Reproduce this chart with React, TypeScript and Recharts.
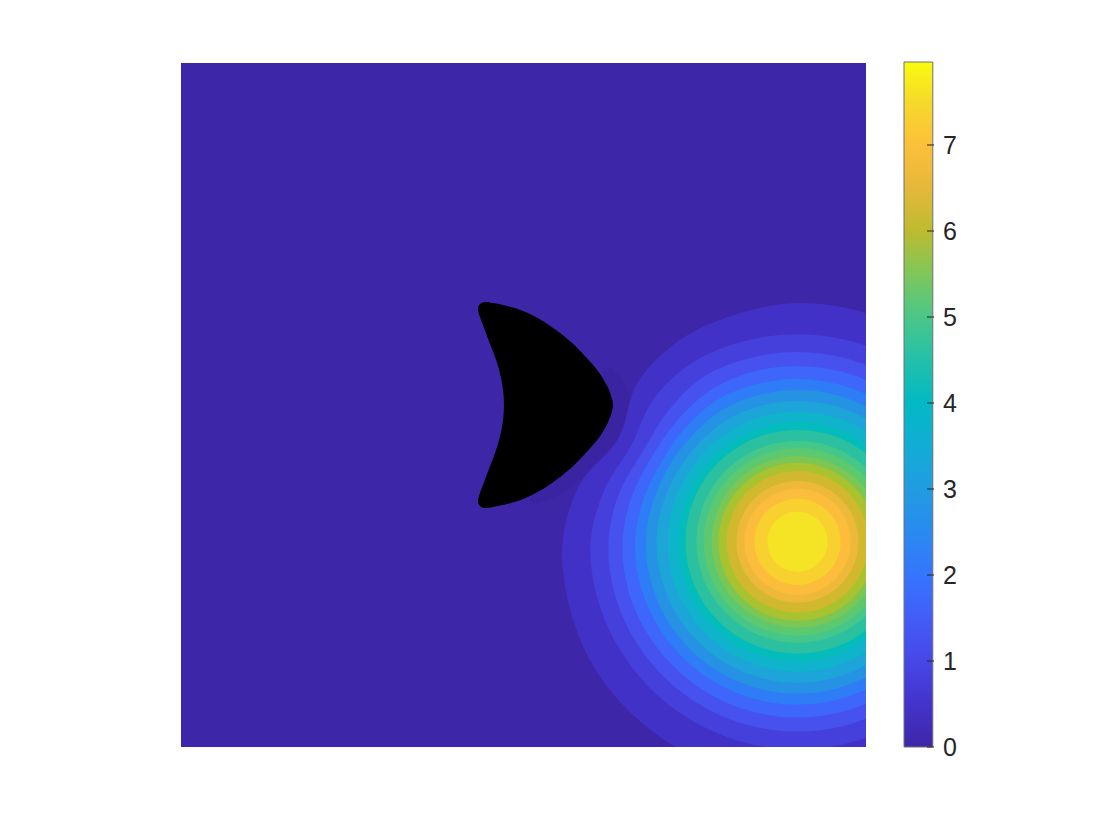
import React from 'react';
import { ComposedChart, Scatter, XAxis, YAxis, BarChart, Bar } from 'recharts';

// ---------- data (chart units: plot spans [-1, 1] x [-1, 1]) ----------
const peakCenterX = 0.8;
const peakCenterY = -0.4;
const peakMax = 7.965;

const contourLevels = [0.4, 0.8, 1.2, 1.6, 2.0, 2.4, 2.8, 3.2, 3.6, 4.0, 4.4, 4.8, 5.2, 5.6, 6.0, 6.4, 6.8, 7.2, 7.6];

// directions (degrees, counter-clockwise from +x) at which each contour radius was read
const contourAngles = [0, 15, 30, 45, 60, 75, 90, 105, 120, 135, 150, 165, 180, 195, 210, 225, 240, 255, 270, 285, 300, 315, 330, 345];

// radius of each contour level (rows follow contourLevels) along contourAngles
const contourRadii = [
  [0.698, 0.698, 0.698, 0.698, 0.698, 0.698, 0.698, 0.689, 0.683, 0.660, 0.604, 0.657, 0.686, 0.692, 0.698, 0.698, 0.698, 0.698, 0.698, 0.698, 0.698, 0.698, 0.698, 0.698],
  [0.607, 0.607, 0.607, 0.607, 0.607, 0.607, 0.607, 0.607, 0.607, 0.593, 0.561, 0.584, 0.604, 0.607, 0.607, 0.607, 0.607, 0.607, 0.607, 0.607, 0.607, 0.607, 0.607, 0.607],
  [0.555, 0.555, 0.555, 0.555, 0.555, 0.555, 0.555, 0.555, 0.555, 0.537, 0.523, 0.540, 0.552, 0.555, 0.555, 0.555, 0.555, 0.555, 0.555, 0.555, 0.555, 0.555, 0.555, 0.555],
  [0.514, 0.514, 0.514, 0.514, 0.514, 0.514, 0.514, 0.514, 0.511, 0.499, 0.493, 0.502, 0.511, 0.514, 0.514, 0.514, 0.514, 0.514, 0.514, 0.514, 0.514, 0.514, 0.514, 0.514],
  [0.476, 0.476, 0.476, 0.476, 0.476, 0.476, 0.476, 0.476, 0.476, 0.467, 0.461, 0.467, 0.474, 0.476, 0.476, 0.476, 0.476, 0.476, 0.476, 0.476, 0.476, 0.476, 0.476, 0.476],
  [0.444, 0.444, 0.444, 0.444, 0.444, 0.444, 0.444, 0.444, 0.444, 0.437, 0.435, 0.438, 0.443, 0.444, 0.444, 0.444, 0.444, 0.444, 0.444, 0.444, 0.444, 0.444, 0.444, 0.444],
  [0.412, 0.412, 0.412, 0.412, 0.412, 0.412, 0.412, 0.412, 0.412, 0.408, 0.406, 0.409, 0.412, 0.412, 0.412, 0.412, 0.412, 0.412, 0.412, 0.412, 0.412, 0.412, 0.412, 0.412],
  [0.380, 0.380, 0.380, 0.380, 0.380, 0.380, 0.380, 0.380, 0.380, 0.379, 0.377, 0.379, 0.380, 0.380, 0.380, 0.380, 0.380, 0.380, 0.380, 0.380, 0.380, 0.380, 0.380, 0.380],
  [0.350, 0.350, 0.350, 0.350, 0.350, 0.350, 0.350, 0.350, 0.350, 0.350, 0.350, 0.350, 0.350, 0.350, 0.350, 0.350, 0.350, 0.350, 0.350, 0.350, 0.350, 0.350, 0.350, 0.350],
  [0.327, 0.327, 0.327, 0.327, 0.327, 0.327, 0.327, 0.327, 0.327, 0.327, 0.327, 0.327, 0.327, 0.327, 0.327, 0.327, 0.327, 0.327, 0.327, 0.327, 0.327, 0.327, 0.327, 0.327],
  [0.295, 0.295, 0.295, 0.295, 0.295, 0.295, 0.295, 0.295, 0.295, 0.295, 0.295, 0.295, 0.295, 0.295, 0.295, 0.295, 0.295, 0.295, 0.295, 0.295, 0.295, 0.295, 0.295, 0.295],
  [0.274, 0.274, 0.274, 0.274, 0.274, 0.274, 0.274, 0.274, 0.274, 0.274, 0.274, 0.274, 0.274, 0.274, 0.274, 0.274, 0.274, 0.274, 0.274, 0.274, 0.274, 0.274, 0.274, 0.274],
  [0.251, 0.251, 0.251, 0.251, 0.251, 0.251, 0.251, 0.251, 0.251, 0.251, 0.251, 0.251, 0.251, 0.251, 0.251, 0.251, 0.251, 0.251, 0.251, 0.251, 0.251, 0.251, 0.251, 0.251],
  [0.231, 0.231, 0.231, 0.231, 0.231, 0.231, 0.231, 0.231, 0.231, 0.231, 0.231, 0.231, 0.231, 0.231, 0.231, 0.231, 0.231, 0.231, 0.231, 0.231, 0.231, 0.231, 0.231, 0.231],
  [0.207, 0.207, 0.207, 0.207, 0.207, 0.207, 0.207, 0.207, 0.207, 0.207, 0.207, 0.207, 0.207, 0.207, 0.207, 0.207, 0.207, 0.207, 0.207, 0.207, 0.207, 0.207, 0.207, 0.207],
  [0.178, 0.178, 0.178, 0.178, 0.178, 0.178, 0.178, 0.178, 0.178, 0.178, 0.178, 0.178, 0.178, 0.178, 0.178, 0.178, 0.178, 0.178, 0.178, 0.178, 0.178, 0.178, 0.178, 0.178],
  [0.155, 0.155, 0.155, 0.155, 0.155, 0.155, 0.155, 0.155, 0.155, 0.155, 0.155, 0.155, 0.155, 0.155, 0.155, 0.155, 0.155, 0.155, 0.155, 0.155, 0.155, 0.155, 0.155, 0.155],
  [0.126, 0.126, 0.126, 0.126, 0.126, 0.126, 0.126, 0.126, 0.126, 0.126, 0.126, 0.126, 0.126, 0.126, 0.126, 0.126, 0.126, 0.126, 0.126, 0.126, 0.126, 0.126, 0.126, 0.126],
  [0.088, 0.088, 0.088, 0.088, 0.088, 0.088, 0.088, 0.088, 0.088, 0.088, 0.088, 0.088, 0.088, 0.088, 0.088, 0.088, 0.088, 0.088, 0.088, 0.088, 0.088, 0.088, 0.088, 0.088],
];

const backgroundColor = '#3E26A8';
// fill colour of the region above each contour level
const bandColors = [
  '#4231C6', '#4540DC', '#4651EE', '#3E66FA', '#2E7DF6', '#2592E3', '#1DA4D8', '#10B3CC', '#04BCBC',
  '#2BC0A0', '#46C78A', '#5CC870', '#7CC653', '#A9C22F', '#D1B82E', '#EEB93B', '#FDBD3C', '#F8D030', '#F5E426',
];

// slightly lower region hugging the obstacle
const wakeX = [0.241, 0.288, 0.311, 0.299, 0.264, 0.212, 0.150, 0.083, 0.019, 0.107, 0.194];
const wakeY = [0.108, 0.073, 0.020, -0.044, -0.117, -0.178, -0.231, -0.272, -0.278, -0.102, 0.015];
const wakeColor = '#3B24A1';

// crescent obstacle outline
const obstacleX = [
  -0.127, -0.112, -0.089, -0.045, -0.001, 0.048, 0.095, 0.142, 0.182, 0.218, 0.244, 0.258, 0.261,
  0.258, 0.244, 0.218, 0.182, 0.142, 0.095, 0.048, -0.001, -0.045, -0.089, -0.112, -0.127,
  -0.133, -0.127, -0.115, -0.101, -0.083, -0.069, -0.060, -0.057, -0.060, -0.069, -0.083, -0.101, -0.115, -0.127, -0.133,
];
const obstacleY = [
  0.295, 0.301, 0.298, 0.289, 0.275, 0.251, 0.219, 0.181, 0.140, 0.099, 0.056, 0.020, 0.000,
  -0.020, -0.056, -0.099, -0.140, -0.181, -0.219, -0.251, -0.275, -0.289, -0.298, -0.301, -0.295,
  -0.281, -0.257, -0.225, -0.187, -0.140, -0.094, -0.047, 0.000, 0.047, 0.094, 0.140, 0.187, 0.225, 0.257, 0.281,
];

const plotCornersX = [-1, 1, 1, -1];
const plotCornersY = [-1, -1, 1, 1];

// colorbar
const colorbarTicks = [0, 1, 2, 3, 4, 5, 6, 7];
const colorbarValues = [0, 0.5, 1, 1.5, 2, 2.5, 3, 3.5, 4, 4.5, 5, 5.5, 6, 6.5, 7, 7.5, 7.965];
const colorbarColors = [
  '#3E26A8', '#4433CC', '#4747E6', '#435DF7', '#3575FD', '#2A8AF0', '#219CE1', '#12ADD4', '#02B9C4',
  '#23C0A9', '#4AC789', '#7FC75A', '#BDBB30', '#E5B83A', '#FCC03A', '#F6D92B', '#F9FB0E',
];

// ---------- helpers ----------
type Pt = { x: number; y: number };

const zip = (xs: number[], ys: number[]): Pt[] => xs.map((x, i) => ({ x, y: ys[i] }));

const contourPoints = (radii: number[]): Pt[] =>
  contourAngles.map((a, i) => {
    const t = (a * Math.PI) / 180;
    return { x: peakCenterX + radii[i] * Math.cos(t), y: peakCenterY + radii[i] * Math.sin(t) };
  });

function smoothClosedPath(pts: Pt[]): string {
  const n = pts.length;
  if (!n) return '';
  let d = `M${pts[0].x},${pts[0].y}`;
  for (let i = 0; i < n; i++) {
    const p0 = pts[(i - 1 + n) % n];
    const p1 = pts[i];
    const p2 = pts[(i + 1) % n];
    const p3 = pts[(i + 2) % n];
    const c1x = p1.x + (p2.x - p0.x) / 6;
    const c1y = p1.y + (p2.y - p0.y) / 6;
    const c2x = p2.x - (p3.x - p1.x) / 6;
    const c2y = p2.y - (p3.y - p1.y) / 6;
    d += ` C${c1x},${c1y} ${c2x},${c2y} ${p2.x},${p2.y}`;
  }
  return d + ' Z';
}

const linearClosedPath = (pts: Pt[]): string =>
  pts.length ? 'M' + pts.map((p) => `${p.x},${p.y}`).join(' L') + ' Z' : '';

const makeFill = (color: string, smooth: boolean) => (props: any) => (
  <path
    d={smooth ? smoothClosedPath(props.points || []) : linearClosedPath(props.points || [])}
    fill={color}
    stroke="none"
  />
);

const noShape = () => <g />;

const ColorbarTick = (props: any) => {
  const { x, y, payload } = props;
  return (
    <g>
      <line x1={x - 16} x2={x - 9} y1={y} y2={y} stroke="#262626" strokeWidth={1} />
      <text
        x={x}
        y={y}
        dy="0.36em"
        textAnchor="start"
        fontSize={25}
        fill="#262626"
        fontFamily="'Liberation Sans', Arial, Helvetica, sans-serif"
      >
        {payload.value}
      </text>
    </g>
  );
};

const W = 1104;
const H = 824;

export default function App() {
  const colorbarData = [{ name: 'cb', value: peakMax }];
  return (
    <div style={{ position: 'relative', width: W, height: H }}>
      <div style={{ position: 'absolute', left: 0, top: 0 }}>
        <ComposedChart width={W} height={H} margin={{ top: 55, left: 173, right: 246, bottom: 85 }}>
          <XAxis type="number" dataKey="x" domain={[-1, 1]} allowDataOverflow hide />
          <YAxis type="number" dataKey="y" domain={[-1, 1]} allowDataOverflow hide />
          <Scatter
            data={zip(plotCornersX, plotCornersY)}
            line={makeFill(backgroundColor, false)}
            lineType="joint"
            shape={noShape}
            isAnimationActive={false}
          />
          <Scatter
            data={zip(wakeX, wakeY)}
            line={makeFill(wakeColor, true)}
            lineType="joint"
            shape={noShape}
            isAnimationActive={false}
          />
          {contourLevels.map((lvl, i) => (
            <Scatter
              key={`lvl-${lvl}`}
              data={contourPoints(contourRadii[i])}
              line={makeFill(bandColors[i], true)}
              lineType="joint"
              shape={noShape}
              isAnimationActive={false}
            />
          ))}
          <Scatter
            data={zip(obstacleX, obstacleY)}
            line={makeFill('#000000', true)}
            lineType="joint"
            shape={noShape}
            isAnimationActive={false}
          />
        </ComposedChart>
      </div>
      <div style={{ position: 'absolute', left: 0, top: 0 }}>
        <BarChart
          width={W}
          height={H}
          data={colorbarData}
          margin={{ top: 54, left: 894, right: 128, bottom: 85 }}
          barCategoryGap={0}
        >
          <defs>
            <linearGradient id="parulaGrad" x1="0" y1="1" x2="0" y2="0">
              {colorbarValues.map((v, i) => (
                <stop key={v} offset={`${(v / peakMax) * 100}%`} stopColor={colorbarColors[i]} />
              ))}
            </linearGradient>
          </defs>
          <XAxis dataKey="name" hide />
          <YAxis
            orientation="right"
            width={50}
            domain={[0, peakMax]}
            ticks={colorbarTicks}
            tickSize={0}
            tickMargin={9}
            axisLine={false}
            tickLine={false}
            tick={<ColorbarTick />}
            interval={0}
          />
          <Bar
            dataKey="value"
            fill="url(#parulaGrad)"
            stroke="#707070"
            strokeWidth={1}
            barSize={32}
            isAnimationActive={false}
          />
        </BarChart>
      </div>
    </div>
  );
}
